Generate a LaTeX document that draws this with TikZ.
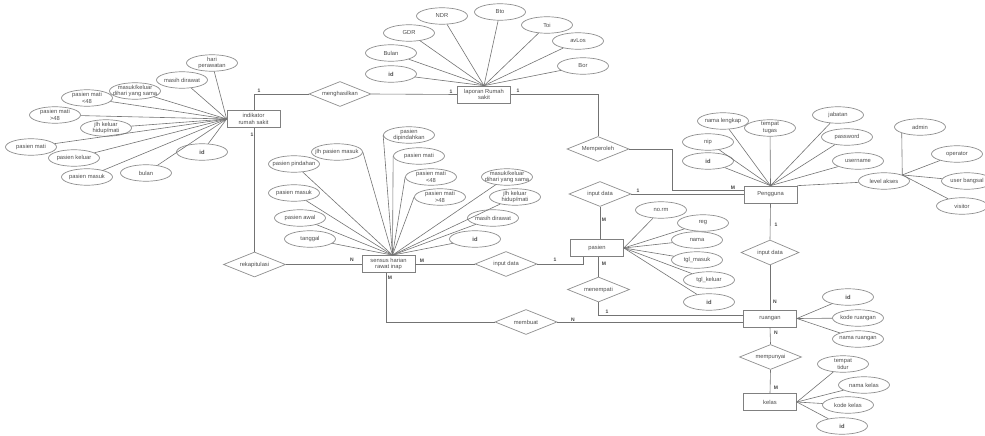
\documentclass[tikz,border=0pt]{standalone}
\usepackage{fontspec}
\setmainfont{Liberation Sans}
\usetikzlibrary{shapes.geometric}
\begin{document}
\begin{tikzpicture}[x=1pt,y=-1pt,
  txt/.style={font=\fontsize{5.8}{6.6}\selectfont, text=black!70, align=center, inner sep=0pt},
  attr/.style={ellipse, draw=black!45, line width=0.7pt, minimum width=51pt, minimum height=16.5pt, inner sep=0pt,
    label={[txt]center:#1}},
  ent/.style={rectangle, draw=black!50, line width=0.7pt, minimum width=53pt, minimum height=17pt, inner sep=0pt, txt},
  rel/.style={diamond, aspect=2.5, draw=black!45, line width=0.7pt, minimum width=62pt, minimum height=25pt, inner sep=0pt, txt},
  con/.style={draw=black!55, line width=0.6pt},
  card/.style={font=\fontsize{5}{5}\selectfont\bfseries, text=black!75, inner sep=0pt}]
\useasboundingbox (0,0) rectangle (985,436);

% entities
\node[ent] (ind) at (253.5,119) {indikator\\rumah sakit};
\node[ent] (lap) at (484,94.5) {laporan Rumah\\sakit};
\node[ent] (sen) at (388.5,264) {sensus harian\\rawat inap};
\node[ent] (pen) at (770.5,194.5) {Pengguna};
\node[ent] (pas) at (597,248) {pasien};
\node[ent] (rua) at (770,318.5) {ruangan};
\node[ent] (kel) at (770,402) {kelas};

% relationships
\node[rel] (rHas) at (340,94) {menghasilkan};
\node[rel] (rMem) at (598,149) {Memperoleh};
\node[rel] (rIn1) at (600,194) {input data};
\node[rel] (rRek) at (254.5,264.5) {rekapitulasi};
\node[rel] (rIn2) at (506,264) {input data};
\node[rel] (rTem) at (598.5,289.5) {menempati};
\node[rel, minimum width=58pt] (rIn3) at (770,252.5) {input data};
\node[rel] (rBuat) at (526,322) {membuat};
\node[rel] (rPun) at (770.5,357) {mempunyai};

% relationship connectors
\draw[con] (rRek.north |- ind.north) |- (rHas.west);
\draw[con] (rRek.north) -- (rRek.north |- ind.south);
\draw[con] (rHas.east) -- (lap.west);
\draw[con] (lap.east) -| (rMem.north);
\draw[con] (rMem.east) -- ++(43,0) |- ([yshift=4.5pt]pen.west);
\draw[con] (rIn1.east) -- (rIn1.east -| pen.west);
\draw[con] (rIn1.south) -- (rIn1.south |- pas.north);
\draw[con] (sen.east) -- (rIn2.west);
\draw[con] (rIn2.east) -| ([xshift=-14pt]pas.south);
\draw[con] (rTem.north) -- (rTem.north |- pas.south);
\draw[con] (rTem.south) |- ([yshift=3.5pt]rua.west);
\draw[con] ([xshift=-2pt]sen.south) |- (rBuat.west);
\draw[con] (rBuat.east) -- (rBuat.east -| rua.west);
\draw[con] (rRek.east) -- (rRek.east -| sen.west);
\draw[con] (pen.south) -- (rIn3.north);
\draw[con] (rIn3.south) -- (rua.north);
\draw[con] (rua.south) -- (rPun.north);
\draw[con] (rPun.south) -- (kel.north);

% cardinalities
\node[card] at (259,91) {1};
\node[card] at (252,135) {1};
\node[card] at (451,92) {1};
\node[card] at (518,91) {1};
\node[card] at (733,188) {M};
\node[card] at (638,191) {1};
\node[card] at (604,220) {M};
\node[card] at (422,261) {M};
\node[card] at (555,260) {1};
\node[card] at (604,264) {M};
\node[card] at (607,312) {1};
\node[card] at (390,278) {M};
\node[card] at (573,320) {N};
\node[card] at (352,260) {N};
\node[card] at (776,225) {1};
\node[card] at (775,302) {N};
\node[card] at (776,333) {N};
\node[card] at (776,388) {M};

% indikator attributes
\node[attr={hari\\perawatan}] (i1) at (212,63) {};
\node[attr={masih dirawat}] (i2) at (182,80) {};
\node[attr={masuk/keluar\\dihari yang sama}] (i3) at (135,91) {};
\node[attr={pasien mati\\<48}] (i4) at (87,98) {};
\node[attr={pasien mati\\>48}] (i5) at (55,115) {};
\node[attr={jlh keluar\\hidup/mati}] (i6) at (106,128) {};
\node[attr={pasien mati}] (i7) at (31,147) {};
\node[attr={pasien keluar}] (i8) at (74,158) {};
\node[attr={pasien masuk}] (i9) at (87,177) {};
\node[attr={bulan}] (i10) at (146,173) {};
\node[attr={\textbf{id}}] (i11) at (202,152) {};
\foreach \a in {i1,i2,i3,i4,i5,i6,i7,i8,i9,i10,i11} \draw[con] (\a) -- (ind.west);

% laporan attributes
\node[attr={NDR}] (l1) at (442,16) {};
\node[attr={GDR}] (l2) at (409,33) {};
\node[attr={Bto}] (l3) at (500,12) {};
\node[attr={Toi}] (l4) at (547,25) {};
\node[attr={avLos}] (l5) at (578,41) {};
\node[attr={Bor}] (l6) at (583,66) {};
\node[attr={Bulan}] (l7) at (391,53) {};
\node[attr={\textbf{id}}] (l8) at (391,74) {};
\foreach \a in {l1,l2,l3,l4,l5,l6,l7,l8} \draw[con] (\a) -- (lap.north);

% sensus attributes
\coordinate (senN) at ([xshift=4pt]sen.north);
\node[attr={pasien\\dipindahkan}] (s1) at (409,135) {};
\node[attr={jlh pasien masuk}] (s2) at (337,152) {};
\node[attr={pasien mati}] (s3) at (419,156) {};
\node[attr={pasien pindahan}] (s4) at (294,164) {};
\node[attr={pasien mati\\<48}] (s5) at (431,177) {};
\node[attr={masuk/keluar\\dihari yang sama}] (s6) at (507,177) {};
\node[attr={pasien masuk}] (s7) at (294,193) {};
\node[attr={pasien mati\\>48}] (s8) at (440,197) {};
\node[attr={jlh keluar\\hidup/mati}] (s9) at (515,197) {};
\node[attr={pasien awal}] (s10) at (300,218) {};
\node[attr={masih dirawat}] (s11) at (493,218) {};
\node[attr={tanggal}] (s12) at (310,239) {};
\node[attr={\textbf{id}}] (s13) at (475,239) {};
\foreach \a in {s1.west,s2.east,s3.west,s5.west,s8.west} \draw[con] (\a) -- (senN);
\foreach \a in {s4,s6,s7,s9,s10,s11,s12,s13} \draw[con] (\a) -- (senN);

% pengguna attributes
\node[attr={nama lengkap}] (p1) at (723,121) {};
\node[attr={tempat\\tugas}] (p2) at (770,128) {};
\node[attr={jabatan}] (p3) at (838,115) {};
\node[attr={nip}] (p4) at (708,142) {};
\node[attr={password}] (p5) at (847,137) {};
\node[attr={\textbf{id}}] (p6) at (708,161) {};
\node[attr={username}] (p7) at (858,161) {};
\node[attr={level akses}] (p8) at (884,181) {};
\foreach \a in {p1,p2,p3,p4,p5,p6,p7} \draw[con] (\a) -- (pen.north);
\draw[con] (p8) -- (pen.north east);

% level akses values
\node[attr={admin}] (a1) at (920,127) {};
\node[attr={operator}] (a2) at (957,154) {};
\node[attr={user bangsal}] (a3) at (967,181) {};
\node[attr={visitor}] (a4) at (962,206) {};
\draw[con] (a1.south west) -- (p8.north east);
\foreach \a in {a2,a3,a4} \draw[con] (\a) -- (p8.north east);

% pasien attributes
\node[attr={no.rm}] (q1) at (661,210) {};
\node[attr={reg}] (q2) at (703,223) {};
\node[attr={nama}] (q3) at (697,240) {};
\node[attr={tgl\_masuk}] (q4) at (697,260) {};
\node[attr={tgl\_keluar}] (q5) at (709,280) {};
\node[attr={\textbf{id}}] (q6) at (709,302) {};
\foreach \a in {q1,q2,q3,q4,q5,q6} \draw[con] (\a) -- (pas.east);

% ruangan attributes
\node[attr={\textbf{id}}] (u1) at (848,297) {};
\node[attr={kode ruangan}] (u2) at (858,318) {};
\node[attr={nama ruangan}] (u3) at (858,339) {};
\foreach \a in {u1,u2,u3} \draw[con] (\a) -- (rua.east);

% kelas attributes
\node[attr={tempat\\tidur}] (k1) at (843,364) {};
\node[attr={nama kelas}] (k2) at (864,385) {};
\node[attr={kode kelas}] (k3) at (848,405) {};
\node[attr={\textbf{id}}] (k4) at (842,426) {};
\foreach \a in {k1,k2,k3,k4} \draw[con] (\a) -- (kel.east);
\end{tikzpicture}
\end{document}
